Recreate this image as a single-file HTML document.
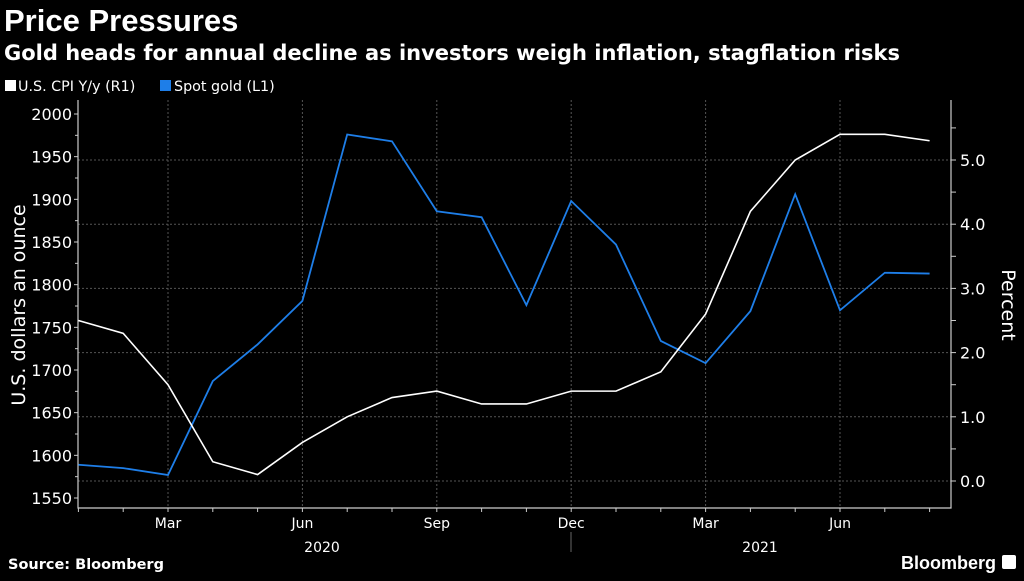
<!DOCTYPE html>
<html><head><meta charset="utf-8"><style>
body{margin:0;background:#000;width:1024px;height:576px;overflow:hidden;font-family:"Liberation Sans",sans-serif;color:#fff}
svg text{font-family:"DejaVu Sans","Liberation Sans",sans-serif}
</style></head><body>
<svg width="1024" height="576">
<text x="4" y="31" font-size="31" font-weight="bold" fill="#fff" style="font-family:'Liberation Sans',sans-serif">Price Pressures</text>
<text x="4" y="60" font-size="21" font-weight="bold" fill="#fff">Gold heads for annual decline as investors weigh inflation, stagflation risks</text>
<rect x="5" y="80" width="11" height="11" fill="#fff"/>
<text x="18" y="91" font-size="14.3" fill="#fff">U.S. CPI Y/y (R1)</text>
<rect x="160" y="80" width="11" height="11" fill="#1e7ee8"/>
<text x="174" y="91" font-size="14.3" fill="#fff">Spot gold (L1)</text>
<g id="grid"></g><g id="axes"></g><g id="series"></g>
<text transform="translate(25,305) rotate(-90)" font-size="19" fill="#fff" text-anchor="middle">U.S. dollars an ounce</text>
<text transform="translate(1002,305) rotate(90)" font-size="19" fill="#fff" text-anchor="middle">Percent</text>
<text x="322" y="552" font-size="14" fill="#fff" text-anchor="middle">2020</text>
<text x="760" y="552" font-size="14" fill="#fff" text-anchor="middle">2021</text>
<line x1="571" y1="532" x2="571" y2="552" stroke="#666"/>
<text x="8" y="569" font-size="14.5" font-weight="bold" fill="#fff">Source: Bloomberg</text>
<text x="996" y="569" font-size="18" font-weight="bold" fill="#fff" text-anchor="end" style="font-family:'Liberation Sans',sans-serif">Bloomberg</text>
<rect x="1002" y="555" width="14" height="14" rx="2" fill="#fff"/>
</svg>
<script>
const months=["Jan","Feb","Mar","Apr","May","Jun","Jul","Aug","Sep","Oct","Nov","Dec","Jan","Feb","Mar","Apr","May","Jun","Jul","Aug"];
const gold=[1589,1585,1577,1687,1730,1781,1976,1968,1886,1879,1776,1898,1847,1734,1708,1769,1906,1770,1814,1813];
const cpi=[2.5,2.3,1.5,0.3,0.1,0.6,1.0,1.3,1.4,1.2,1.2,1.4,1.4,1.7,2.6,4.2,5.0,5.4,5.4,5.3];
const leftTicks=[1550,1600,1650,1700,1750,1800,1850,1900,1950,2000];
const rightTicks=[0,1,2,3,4,5];
const labelMonths=["Mar","Jun","Sep","Dec"];
const NS="http://www.w3.org/2000/svg";
const X0=78,XR=951,YB=508,YT=100;
const xs=i=>78.4+i*44.8;
const yl=v=>498-(v-1550)*(384/450);
const yr=v=>481-v*64.2;
function mk(p,t,a){const e=document.createElementNS(NS,t);for(const k in a)e.setAttribute(k,a[k]);document.getElementById(p).appendChild(e);return e;}
rightTicks.forEach(v=>{const g=mk('grid','line',{x1:X0,x2:XR,y1:yr(v),y2:yr(v),stroke:'#555','stroke-dasharray':'2,2'});


const t=mk('axes','text',{x:XR+9,y:yr(v)+6,'font-size':16,fill:'#fff'});t.textContent=v.toFixed(1);


mk('axes','line',{x1:XR,x2:XR+5,y1:yr(v),y2:yr(v),stroke:'#ccc'});
mk('axes','line',{x1:XR,x2:XR+5,y1:yr(v+0.5),y2:yr(v+0.5),stroke:'#ccc'});});
leftTicks.forEach(v=>{const t=mk('axes','text',{x:X0-6,y:yl(v)+6,'font-size':16,fill:'#fff','text-anchor':'end'});t.textContent=v;


mk('axes','line',{x1:X0-4,x2:X0,y1:yl(v),y2:yl(v),stroke:'#ccc'});
if(v<2000)mk('axes','line',{x1:X0-3,x2:X0,y1:yl(v+25),y2:yl(v+25),stroke:'#ccc'});});
months.forEach((m,i)=>{const x=xs(i);mk('axes','line',{x1:x,x2:x,y1:YB,y2:YB+4,stroke:'#ccc'});
if(labelMonths.includes(m)){const g=mk('grid','line',{x1:x,x2:x,y1:YT,y2:YB,stroke:'#555','stroke-dasharray':'2,2'});


const t=mk('axes','text',{x:x,y:YB+20,'font-size':14,fill:'#fff','text-anchor':'middle'});t.textContent=m;

}});
const ax=mk('axes','path',{d:`M${X0} ${YT}V${YB}H${XR}V${YT}`,fill:'none',stroke:'#ccc','stroke-width':1.2});


const gp=mk('series','polyline',{points:gold.map((v,i)=>xs(i)+','+yl(v)).join(' '),fill:'none',stroke:'#1e7ee8','stroke-width':1.8});


const cp=mk('series','polyline',{points:cpi.map((v,i)=>xs(i)+','+yr(v)).join(' '),fill:'none',stroke:'#fff','stroke-width':1.6});


</script>
</body></html>
